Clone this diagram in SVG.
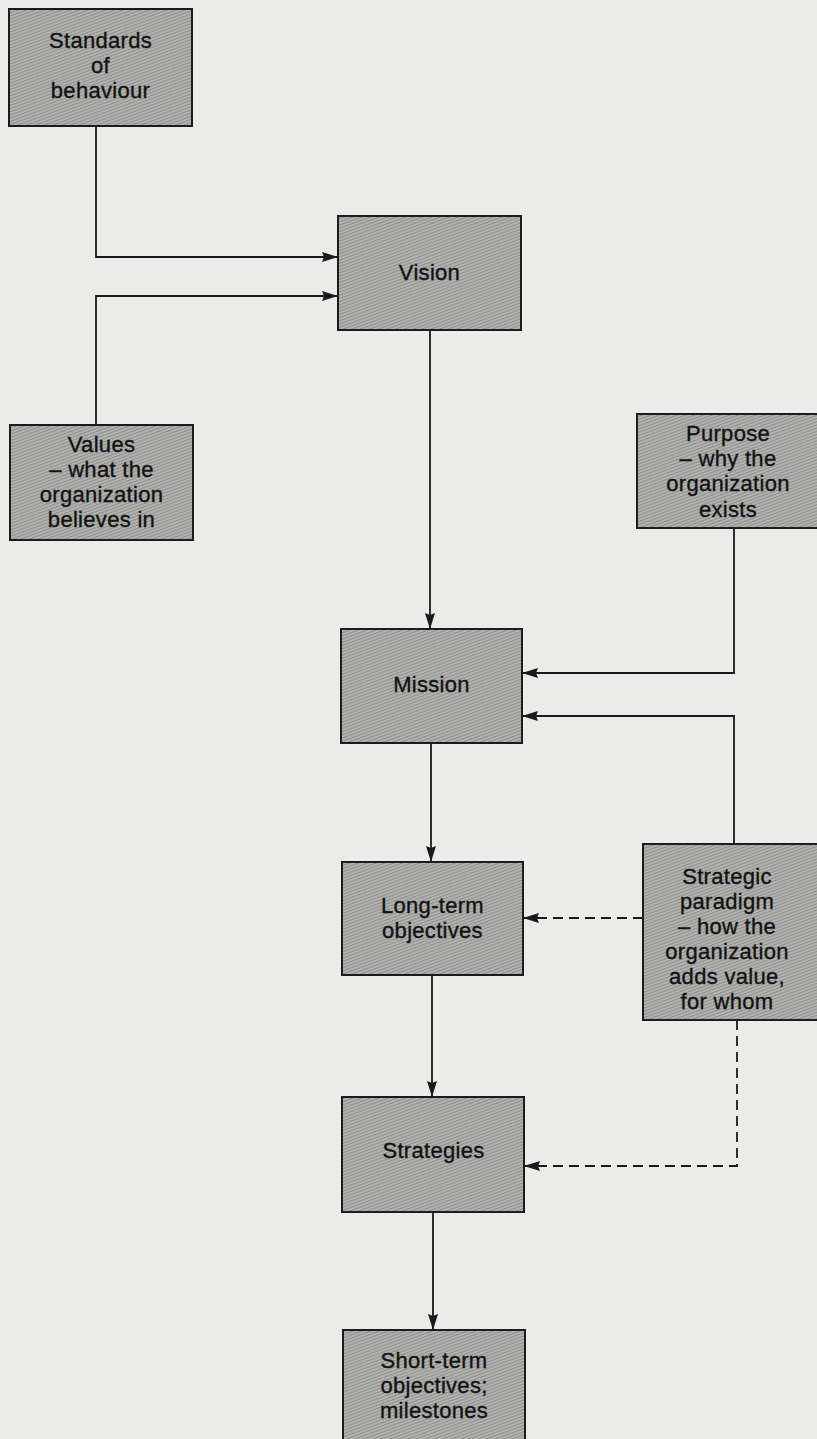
<svg xmlns="http://www.w3.org/2000/svg" width="817" height="1439" viewBox="0 0 817 1439">
  <style>
    .box { fill: url(#screen); stroke: #1c1c1c; stroke-width: 2; }
    .lbl { font-family: "Liberation Sans", Arial, sans-serif; font-size: 22px; letter-spacing: 0.3px; fill: #121212; stroke: #121212; stroke-width: 0.35; text-anchor: middle; }
    .link { fill: none; stroke: #1a1a1a; stroke-width: 1.8; }
    .dash { stroke-dasharray: 10 6; }
  </style>
  <defs>
    <!-- fine halftone screen used inside every box -->
    <pattern id="screen" width="3" height="3" patternUnits="userSpaceOnUse" patternTransform="rotate(-20)">
      <rect width="3" height="3" fill="#b6b6b4"/>
      <rect width="3" height="1.2" fill="#8e8e8c"/>
    </pattern>
    <marker id="arrow" viewBox="0 0 16 10" refX="15" refY="5" markerWidth="16" markerHeight="10" markerUnits="userSpaceOnUse" orient="auto">
      <path d="M0,0 L16,5 L0,10 L2,5 Z" fill="#1a1a1a"/>
    </marker>
  </defs>

  <rect width="817" height="1439" fill="#ebebe9"/>

  <!-- connectors -->
  <g id="connectors">
    <polyline class="link" points="96,126 96,257 337,257" marker-end="url(#arrow)"/>
    <polyline class="link" points="96,425 96,296 337,296" marker-end="url(#arrow)"/>
    <polyline class="link" points="430,330 430,628" marker-end="url(#arrow)"/>
    <polyline class="link" points="734,528 734,673 523,673" marker-end="url(#arrow)"/>
    <polyline class="link" points="734,844 734,716 523,716" marker-end="url(#arrow)"/>
    <polyline class="link" points="431,743 431,861" marker-end="url(#arrow)"/>
    <polyline class="link dash" points="643,918 524,918" marker-end="url(#arrow)"/>
    <polyline class="link" points="432,975 432,1096" marker-end="url(#arrow)"/>
    <polyline class="link dash" points="737,1020 737,1166 525,1166" marker-end="url(#arrow)"/>
    <polyline class="link" points="433,1212 433,1329" marker-end="url(#arrow)"/>
  </g>

  <g id="standards">
    <rect class="box" x="9" y="9" width="183" height="117"/>
    <text class="lbl" x="100.5" y="48">Standards</text>
    <text class="lbl" x="100.5" y="73">of</text>
    <text class="lbl" x="100.5" y="98">behaviour</text>
  </g>

  <g id="vision">
    <rect class="box" x="338" y="216" width="183" height="114"/>
    <text class="lbl" x="429.5" y="280">Vision</text>
  </g>

  <g id="values">
    <rect class="box" x="10" y="425" width="183" height="115"/>
    <text class="lbl" x="101.5" y="452">Values</text>
    <text class="lbl" x="101.5" y="477">– what the</text>
    <text class="lbl" x="101.5" y="502">organization</text>
    <text class="lbl" x="101.5" y="527">believes in</text>
  </g>

  <g id="purpose">
    <rect class="box" x="637" y="414" width="184" height="114"/>
    <text class="lbl" x="728" y="441">Purpose</text>
    <text class="lbl" x="728" y="466">– why the</text>
    <text class="lbl" x="728" y="491">organization</text>
    <text class="lbl" x="728" y="517">exists</text>
  </g>

  <g id="mission">
    <rect class="box" x="341" y="629" width="181" height="114"/>
    <text class="lbl" x="431.5" y="692">Mission</text>
  </g>

  <g id="long-term">
    <rect class="box" x="342" y="862" width="181" height="113"/>
    <text class="lbl" x="432.5" y="913">Long-term</text>
    <text class="lbl" x="432.5" y="938">objectives</text>
  </g>

  <g id="paradigm">
    <rect class="box" x="643" y="844" width="178" height="176"/>
    <text class="lbl" x="727" y="884">Strategic</text>
    <text class="lbl" x="727" y="909">paradigm</text>
    <text class="lbl" x="727" y="934">– how the</text>
    <text class="lbl" x="727" y="959">organization</text>
    <text class="lbl" x="727" y="984">adds value,</text>
    <text class="lbl" x="727" y="1009">for whom</text>
  </g>

  <g id="strategies">
    <rect class="box" x="342" y="1097" width="182" height="115"/>
    <text class="lbl" x="433.5" y="1158">Strategies</text>
  </g>

  <g id="short-term">
    <rect class="box" x="343" y="1330" width="182" height="120"/>
    <text class="lbl" x="434" y="1368">Short-term</text>
    <text class="lbl" x="434" y="1393">objectives;</text>
    <text class="lbl" x="434" y="1418">milestones</text>
  </g>
</svg>
